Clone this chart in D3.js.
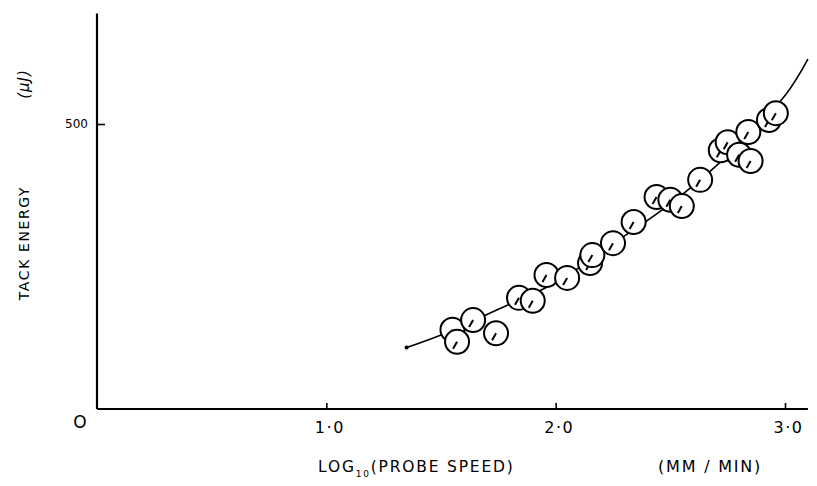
<!DOCTYPE html>
<html>
<head>
<meta charset="utf-8">
<script src="https://cdn.jsdelivr.net/npm/d3@7"></script>
<style>
  html, body { margin: 0; padding: 0; background: #fff; }
  svg { display: block; }
  text { font-family: "DejaVu Sans", "Liberation Sans", sans-serif; fill: #000; }
</style>
</head>
<body>
<svg id="chart" width="817" height="486"></svg>
<script>
// ---- data ----
const logSpeed = [1.55, 1.57, 1.64, 1.74, 1.84, 1.90, 1.96, 2.05, 2.15, 2.16, 2.25, 2.34,
                  2.44, 2.50, 2.55, 2.63, 2.72, 2.75, 2.80, 2.84, 2.85, 2.93, 2.96];
const tackEnergy = [139, 118, 156, 133, 195, 190, 235, 230, 256, 270, 291, 328,
                    372, 367, 356, 402, 454, 468, 446, 486, 435, 507, 519];
const fitX = [1.35, 1.50, 1.75, 2.00, 2.25, 2.50, 2.75, 3.00, 3.10];
const fitY = [108, 130, 175, 222, 290, 360, 445, 550, 614];
const xTicks = [1, 2, 3];
const xTickLabels = ["1·0", "2·0", "3·0"];
const yTicks = [500];
const yTickLabels = ["500"];

// ---- layout ----
const svg = d3.select("#chart");
const x = d3.scaleLinear().domain([0, 3]).range([97, 785]);
const y = d3.scaleLinear().domain([0, 500]).range([409, 124]);
const xMax = 3.1, yMax = 694;

// axes lines
svg.append("line").attr("x1", x(0)).attr("x2", x(xMax)).attr("y1", y(0)).attr("y2", y(0))
  .attr("stroke", "#000").attr("stroke-width", 2);
svg.append("line").attr("x1", x(0)).attr("x2", x(0)).attr("y1", y(0)).attr("y2", y(yMax))
  .attr("stroke", "#000").attr("stroke-width", 2.2);

// x ticks
const gx = svg.append("g").attr("transform", `translate(0,${y(0)})`)
  .call(d3.axisBottom(x).tickValues(xTicks).tickSizeInner(-6).tickSizeOuter(0)
    .tickFormat((d, i) => xTickLabels[i]));
gx.select(".domain").remove();
gx.selectAll(".tick line").attr("stroke", "#000").attr("stroke-width", 1.6);
gx.selectAll(".tick text").attr("font-size", 16).attr("dy", null).attr("y", 24)
  .attr("letter-spacing", 1.5).attr("dx", 3);

// y ticks
const gy = svg.append("g").attr("transform", `translate(${x(0)},0)`)
  .call(d3.axisLeft(y).tickValues(yTicks).tickSizeInner(-8).tickSizeOuter(0)
    .tickFormat((d, i) => yTickLabels[i]));
gy.select(".domain").remove();
gy.selectAll(".tick line").attr("stroke", "#000").attr("stroke-width", 1.6);
gy.selectAll(".tick text").attr("font-size", 12).attr("x", -9).attr("dy", "0.32em");

// origin label
svg.append("text").attr("x", 80).attr("y", 428).attr("text-anchor", "middle")
  .attr("font-size", 17).text("O");

// axis titles
const xt = svg.append("text").attr("x", 318).attr("y", 472).attr("font-size", 15.5)
  .attr("letter-spacing", 1.8);
xt.append("tspan").text("LOG");
xt.append("tspan").attr("font-size", 9).attr("dy", 5).text("10");
xt.append("tspan").attr("dy", -5).text("(PROBE  SPEED)");
svg.append("text").attr("x", 658).attr("y", 472).attr("font-size", 16)
  .attr("letter-spacing", 1.8).text("(MM / MIN)");

svg.append("text").attr("transform", "translate(29,243) rotate(-90)").attr("text-anchor", "middle")
  .attr("font-size", 14).attr("letter-spacing", 1.6).text("TACK  ENERGY");
svg.append("text").attr("transform", "translate(29,84) rotate(-90)").attr("text-anchor", "middle")
  .attr("font-size", 15).attr("font-style", "italic").attr("letter-spacing", 1).text("(μJ)");

// fitted curve
const line = d3.line().x(d => x(d[0])).y(d => y(d[1])).curve(d3.curveCatmullRom);
svg.append("path").datum(fitX.map((v, i) => [v, fitY[i]]))
  .attr("d", line).attr("fill", "none").attr("stroke", "#000").attr("stroke-width", 1.6);
svg.append("circle").attr("cx", x(fitX[0])).attr("cy", y(fitY[0])).attr("r", 2).attr("fill", "#000");

// data points
const pts = svg.append("g").selectAll("g").data(logSpeed.map((v, i) => [v, tackEnergy[i]]))
  .join("g").attr("transform", d => `translate(${x(d[0])},${y(d[1])})`);
pts.append("circle").attr("r", 12).attr("fill", "#fff").attr("stroke", "#000").attr("stroke-width", 2);
pts.append("line").attr("x1", 0).attr("y1", 0).attr("x2", -4).attr("y2", 7)
  .attr("stroke", "#000").attr("stroke-width", 2);
</script>
</body>
</html>
